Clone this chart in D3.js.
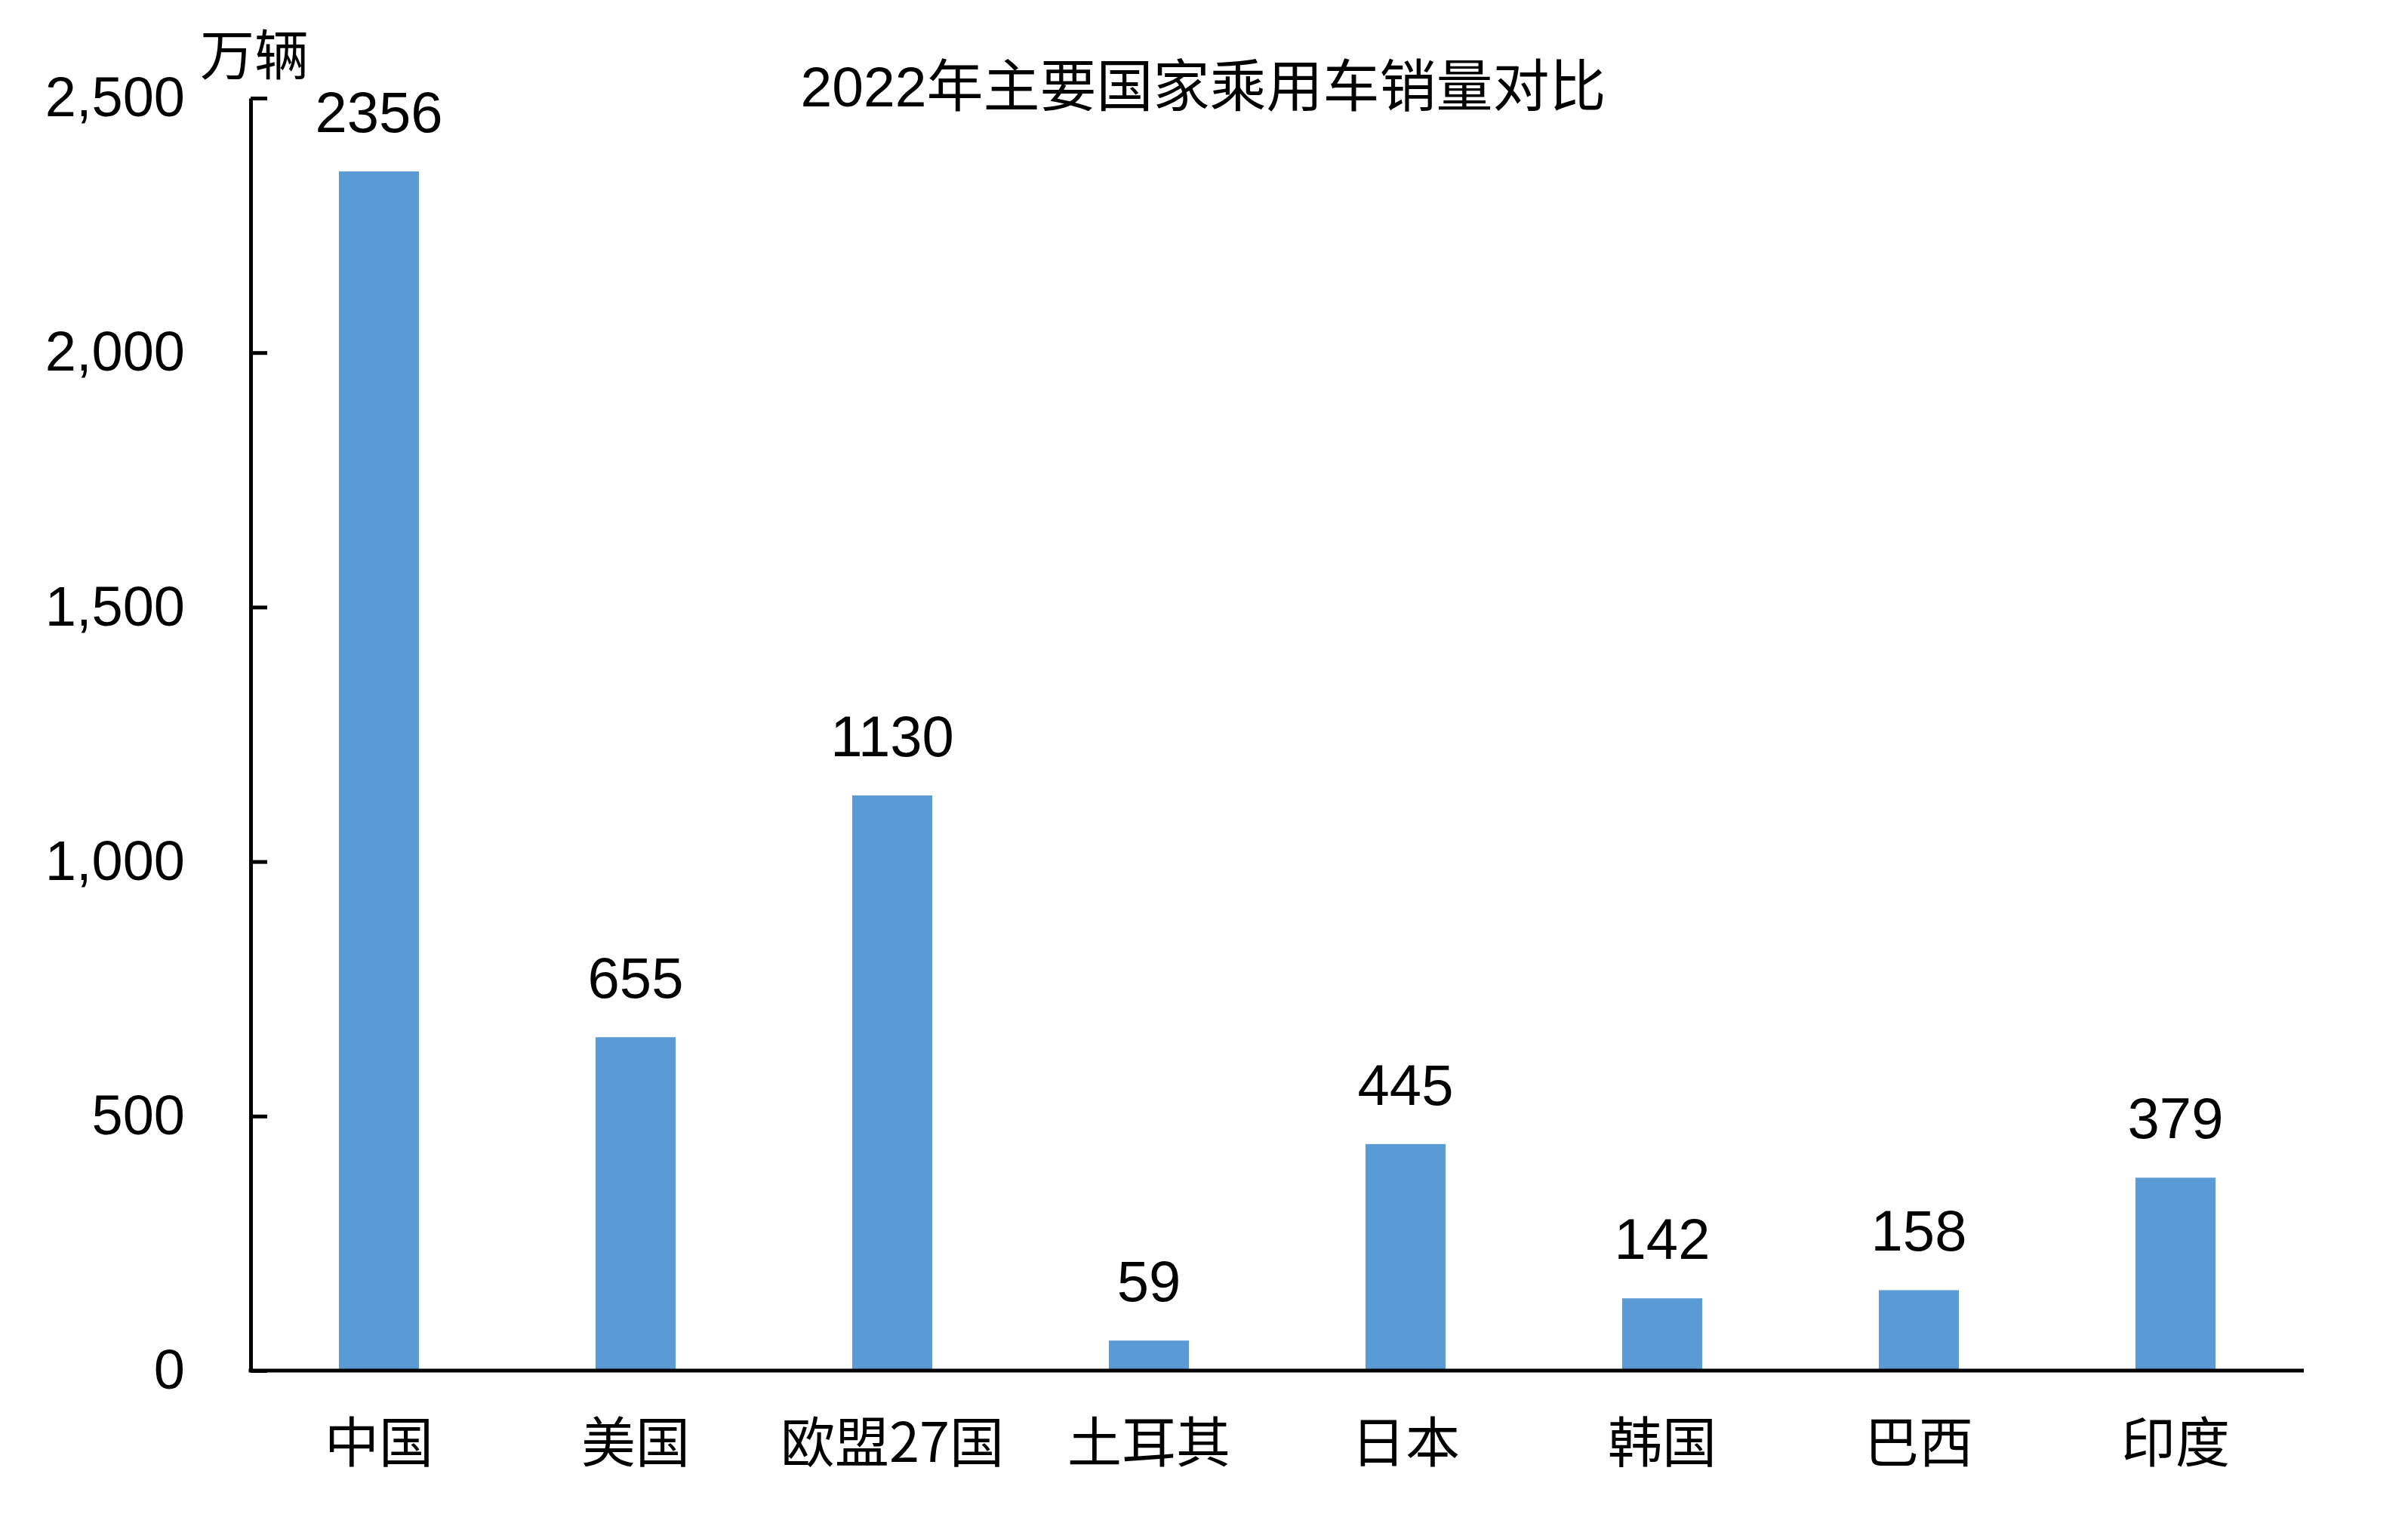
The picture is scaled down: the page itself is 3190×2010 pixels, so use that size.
<!DOCTYPE html>
<html>
<head>
<meta charset="utf-8">
<script src="https://cdn.jsdelivr.net/npm/d3@7"></script>
<style>
  html, body { margin: 0; padding: 0; background: #ffffff; }
  svg { display: block; }
</style>
</head>
<body>
<svg id="chart" width="3190" height="2010"></svg>
<script>
const categories = ["中国", "美国", "欧盟27国", "土耳其", "日本", "韩国", "巴西", "印度"];
const sales = [2356, 655, 1130, 59, 445, 142, 158, 379];
const yTicks = [0, 500, 1000, 1500, 2000, 2500];
const titleText = "2022年主要国家乘用车销量对比";
const unitText = "万辆";

const W = 3190, H = 2010;
const margin = { left: 332, right: 3052, top: 130, bottom: 1816 };
const fontLatin = "'Liberation Sans', Arial, 'Noto Sans CJK SC', sans-serif";
const fontCJK = "'Noto Sans CJK SC', 'Liberation Sans', sans-serif";
const barColor = "#5B9BD5";

const svg = d3.select("#chart");

const x = d3.scaleBand()
  .domain(categories)
  .range([margin.left, margin.right])
  .paddingInner(0.688)
  .paddingOuter(0.344);

const y = d3.scaleLinear()
  .domain([0, 2500])
  .range([margin.bottom, margin.top]);

// Bars
svg.append("g")
  .selectAll("rect")
  .data(categories.map((c, i) => ({ c, v: sales[i] })))
  .join("rect")
  .attr("x", d => x(d.c))
  .attr("y", d => y(d.v))
  .attr("width", x.bandwidth())
  .attr("height", d => y(0) - y(d.v))
  .attr("fill", barColor);

// Value labels
svg.append("g")
  .selectAll("text")
  .data(categories.map((c, i) => ({ c, v: sales[i] })))
  .join("text")
  .attr("x", d => x(d.c) + x.bandwidth() / 2)
  .attr("y", d => y(d.v) - 52)
  .attr("text-anchor", "middle")
  .attr("font-family", fontLatin)
  .attr("font-size", 76)
  .attr("fill", "#000")
  .text(d => d.v);

// Y axis
const yAxis = d3.axisLeft(y)
  .tickValues(yTicks)
  .tickFormat(d3.format(","))
  .tickSizeInner(-22)
  .tickSizeOuter(0)
  .tickPadding(87);

const gy = svg.append("g")
  .attr("transform", `translate(${margin.left},0)`)
  .call(yAxis);
gy.select(".domain").attr("stroke", "#000").attr("stroke-width", 5);
gy.selectAll(".tick line").attr("stroke", "#000").attr("stroke-width", 5);
gy.selectAll(".tick text")
  .attr("font-family", fontLatin)
  .attr("font-size", 74)
  .attr("fill", "#000");

// X axis
const xAxis = d3.axisBottom(x).tickSize(0).tickSizeOuter(0);
const gx = svg.append("g")
  .attr("transform", `translate(0,${margin.bottom})`)
  .call(xAxis);
gx.select(".domain")
  .attr("stroke", "#000")
  .attr("stroke-width", 5)
  .attr("d", `M${margin.left - 2.5},0H${margin.right}`);
gx.selectAll(".tick text")
  .attr("dy", null)
  .attr("y", 121)
  .attr("font-family", fontCJK)
  .attr("font-size", 72)
  .attr("fill", "#000");

// Title
svg.append("text")
  .attr("x", 1594)
  .attr("y", 141)
  .attr("text-anchor", "middle")
  .attr("font-family", fontLatin)
  .attr("font-size", 75)
  .attr("fill", "#000")
  .text(titleText);

// Unit label
svg.append("text")
  .attr("x", 265)
  .attr("y", 99)
  .attr("text-anchor", "start")
  .attr("font-family", fontCJK)
  .attr("font-size", 72)
  .attr("fill", "#000")
  .text(unitText);
</script>
</body>
</html>
